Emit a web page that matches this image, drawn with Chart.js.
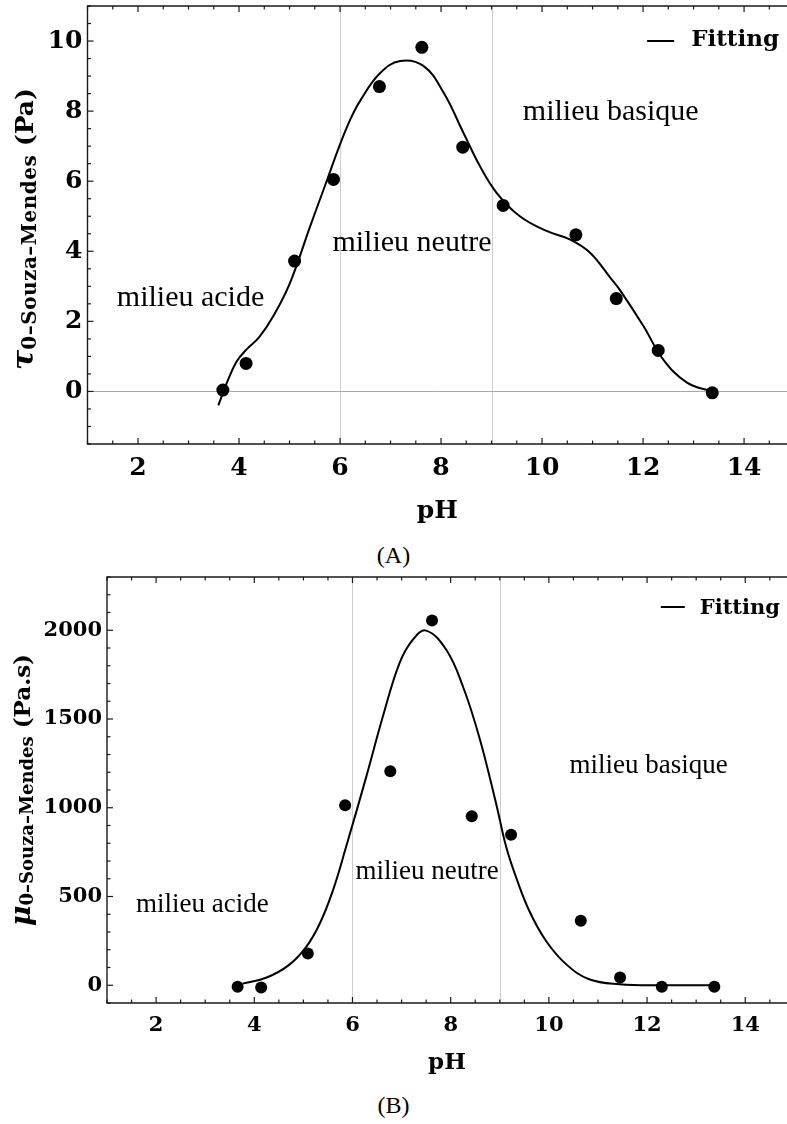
<!DOCTYPE html>
<html lang="fr">
<head>
<meta charset="UTF-8">
<title>Souza-Mendes parameters vs pH</title>
<script src="https://cdn.jsdelivr.net/npm/chart.js"></script>
<style>
    body {
        margin: 0;
        background: #fff;
    }
    .page {
        position: relative;
        width: 787px;
        height: 1124px;
        overflow: hidden;
    }
    canvas {
        position: absolute;
        left: 0;
    }
    #chartA { top: 0; }
    #chartB { top: 566px; }
    .caption {
        position: absolute;
        left: 0;
        width: 787px;
        text-align: center;
        font-family: "Liberation Serif", serif;
        font-size: 24px;
        line-height: 24px;
        color: #000;
    }
</style>
</head>
<body>
<div class="page">
    <canvas id="chartA" width="787" height="532"></canvas>
    <div class="caption" style="top:543px">(A)</div>
    <canvas id="chartB" width="787" height="526"></canvas>
    <div class="caption" style="top:1093px">(B)</div>
</div>

<script>
// ---- panel A : yield stress tau0 (Pa) ----
const phA  = [3.68, 4.14, 5.10, 5.87, 6.78, 7.62, 8.43, 9.23, 10.67, 11.47, 12.30, 13.37];
const tauA = [0.04, 0.80, 3.72, 6.05, 8.70, 9.82, 6.97, 5.31, 4.47, 2.65, 1.17, -0.04];
const phFitA  = [3.59, 3.76, 3.95, 4.15, 4.40, 4.68, 5.01, 5.41, 5.74, 6.00, 6.20, 6.40, 6.79, 7.19, 7.65, 8.05, 8.44, 8.77, 9.10, 9.56, 10.09, 10.55, 10.95, 11.35, 11.54, 12.01, 12.40, 12.87, 13.33];
const tauFitA = [-0.40, 0.25, 0.85, 1.20, 1.55, 2.15, 3.10, 4.72, 6.02, 7.05, 7.75, 8.30, 9.08, 9.43, 9.29, 8.53, 7.39, 6.43, 5.67, 5.00, 4.58, 4.34, 3.96, 3.25, 2.90, 1.86, 0.91, 0.25, 0.01];

// ---- panel B : viscosity mu0 (Pa.s) ----
const phB = [3.66, 4.14, 5.09, 5.85, 6.77, 7.62, 8.43, 9.23, 10.65, 11.45, 12.30, 13.37];
const muB = [-8, -13, 179, 1014, 1206, 2055, 952, 848, 364, 43, -8, -8];
const phFitB = [3.76, 4.24, 4.71, 5.05, 5.33, 5.60, 5.87, 6.28, 6.62, 6.96, 7.23, 7.50, 7.91, 8.25, 8.58, 8.92, 9.13, 9.33, 9.60, 9.94, 10.35, 10.82, 11.44, 12.30, 13.37];
const muFitB = [9, 42, 115, 213, 345, 533, 780, 1174, 1515, 1816, 1947, 1998, 1890, 1683, 1400, 1030, 780, 610, 420, 251, 119, 34, 6, 0, 0];

// ---- axes / zones ----
const phTicks  = [2, 4, 6, 8, 10, 12, 14];
const tauTicks = [0, 2, 4, 6, 8, 10];
const muTicks  = [0, 500, 1000, 1500, 2000];
const zoneBounds = [6, 9];
const zoneNames  = ['milieu acide', 'milieu neutre', 'milieu basique'];

const BOLD = '"DejaVu Serif", serif';
const TEXT = '"Liberation Serif", serif';

function toXY(xs, ys) {
    return xs.map((v, i) => ({ x: v, y: ys[i] }));
}

// frame, inward ticks, zone lines, labels and legend
function decor(p) {
    return {
        id: 'decor',
        beforeDatasetsDraw(chart) {
            const { ctx, chartArea: a, scales: { x, y } } = chart;
            ctx.save();
            ctx.lineWidth = 1;
            ctx.strokeStyle = '#cccccc';
            zoneBounds.forEach(v => {
                const px = Math.round(x.getPixelForValue(v)) + 0.5;
                ctx.beginPath(); ctx.moveTo(px, a.top); ctx.lineTo(px, a.bottom); ctx.stroke();
            });
            if (p.zeroLine) {
                ctx.strokeStyle = '#a8a8a8';
                const py = Math.round(y.getPixelForValue(0)) + 0.5;
                ctx.beginPath(); ctx.moveTo(a.left, py); ctx.lineTo(a.right, py); ctx.stroke();
            }
            ctx.restore();
        },
        afterDraw(chart) {
            const { ctx, chartArea: a, scales: { x, y } } = chart;
            ctx.save();
            ctx.strokeStyle = '#1a1a1a';
            ctx.lineWidth = 1.4;
            ctx.beginPath();
            ctx.moveTo(a.right, a.top); ctx.lineTo(a.left, a.top);
            ctx.lineTo(a.left, a.bottom); ctx.lineTo(a.right, a.bottom);
            ctx.stroke();

            ctx.lineWidth = 1.2;
            for (let v = 1; v <= 14.85; v += 0.5) {
                const px = x.getPixelForValue(v);
                const len = phTicks.includes(v) ? 6 : 3.5;
                ctx.beginPath();
                ctx.moveTo(px, a.bottom); ctx.lineTo(px, a.bottom - len);
                ctx.moveTo(px, a.top); ctx.lineTo(px, a.top + len);
                ctx.stroke();
            }
            for (let v = p.yMin; v <= p.yMax + 1e-9; v += p.yMinor) {
                const py = y.getPixelForValue(v);
                const len = p.yTicks.includes(Math.round(v * 100) / 100) ? 6 : 3.5;
                ctx.beginPath(); ctx.moveTo(a.left, py); ctx.lineTo(a.left + len, py); ctx.stroke();
            }

            // zone names
            ctx.fillStyle = '#000';
            ctx.font = p.noteSize + 'px ' + TEXT;
            ctx.textAlign = 'left';
            ctx.textBaseline = 'alphabetic';
            p.notes.forEach((n, i) => {
                ctx.fillText(zoneNames[i], x.getPixelForValue(n[0]), y.getPixelForValue(n[1]));
            });

            // legend
            ctx.font = 'bold ' + p.legSize + 'px ' + BOLD;
            ctx.textAlign = 'right';
            const lx = a.right - p.legRight, ly = a.top + p.legTop;
            ctx.fillText('Fitting', lx, ly);
            const tw = ctx.measureText('Fitting').width;
            ctx.lineWidth = 2;
            ctx.strokeStyle = '#000';
            ctx.beginPath();
            ctx.moveTo(lx - tw - p.legGap - p.legDash, ly - p.legDy);
            ctx.lineTo(lx - tw - p.legGap, ly - p.legDy);
            ctx.stroke();

            // rotated y title with subscript
            ctx.translate(p.titleX, (a.top + a.bottom) / 2 + p.titleShift);
            ctx.rotate(-Math.PI / 2);
            ctx.textAlign = 'left';
            let total = 0;
            p.yTitle.forEach(t => {
                ctx.font = t.font;
                ctx.letterSpacing = t.ls || '0px';
                t.w = ctx.measureText(t.text).width;
                total += t.w;
            });
            let cx = -total / 2;
            p.yTitle.forEach(t => {
                ctx.font = t.font;
                ctx.letterSpacing = t.ls || '0px';
                ctx.fillText(t.text, cx, t.dy || 0);
                cx += t.w;
            });
            ctx.restore();
        }
    };
}

function makePanel(id, p) {
    return new Chart(document.getElementById(id), {
        type: 'scatter',
        data: {
            datasets: [
                {
                    label: 'Fitting',
                    data: toXY(p.fitX, p.fitY),
                    showLine: true,
                    borderColor: '#000',
                    borderWidth: 2,
                    pointRadius: 0,
                    tension: 0.4,
                    order: 2
                },
                {
                    label: 'Mesures',
                    data: toXY(p.x, p.y),
                    backgroundColor: '#000',
                    borderWidth: 0,
                    pointRadius: p.dot,
                    order: 1
                }
            ]
        },
        options: {
            responsive: false,
            animation: false,
            devicePixelRatio: 1,
            layout: { autoPadding: false, padding: { top: p.padTop, right: 0, bottom: 0, left: 0 } },
            plugins: { legend: { display: false }, tooltip: { enabled: false } },
            scales: {
                x: {
                    type: 'linear',
                    min: 1,
                    max: 14.85,
                    afterBuildTicks: s => { s.ticks = phTicks.map(v => ({ value: v })); },
                    afterFit: s => { s.height = p.xAxisH; s.paddingLeft = 0; s.paddingRight = 0; },
                    grid: { display: false, drawTicks: false },
                    border: { display: false },
                    ticks: { color: '#000', padding: p.xPad, font: { family: BOLD, weight: 'bold', size: p.tickSize, lineHeight: 1.2 } },
                    title: {
                        display: true,
                        text: 'pH',
                        color: '#000',
                        padding: { top: 0, bottom: p.titlePad },
                        font: { family: BOLD, weight: 'bold', size: p.titleSize, lineHeight: 1.2 }
                    }
                },
                y: {
                    type: 'linear',
                    min: p.yMin,
                    max: p.yMax,
                    afterBuildTicks: s => { s.ticks = p.yTicks.map(v => ({ value: v })); },
                    afterFit: s => { s.width = p.yAxisW; s.paddingTop = 0; s.paddingBottom = 0; },
                    grid: { display: false, drawTicks: false },
                    border: { display: false },
                    ticks: {
                        color: '#000',
                        padding: p.yPad,
                        font: { family: BOLD, weight: 'bold', size: p.tickSize },
                        callback: v => String(v)
                    }
                }
            }
        },
        plugins: [decor(p)]
    });
}

makePanel('chartA', {
    x: phA, y: tauA, fitX: phFitA, fitY: tauFitA,
    yMin: -1.5, yMax: 11, yMinor: 0.5, yTicks: tauTicks,
    padTop: 6, xAxisH: 88, yAxisW: 87.5,
    tickSize: 25, xPad: 9, yPad: 5, titleSize: 25, titlePad: 6,
    dot: 6.5, zeroLine: true,
    notes: [[1.58, 2.43], [5.85, 4.0], [9.62, 7.75]], noteSize: 30,
    legSize: 23, legRight: 8, legTop: 40, legGap: 17, legDash: 27, legDy: 5,
    titleX: 33, titleShift: 4,
    yTitle: [
        { text: 'τ', font: 'italic bold 30px ' + BOLD },
        { text: '0–Souza–Mendes', font: 'bold 20px ' + BOLD, dy: 3, ls: '0.5px' },
        { text: ' (Pa)', font: 'bold 25px ' + BOLD }
    ]
});

makePanel('chartB', {
    x: phB, y: muB, fitX: phFitB, fitY: muFitB,
    yMin: -100, yMax: 2300, yMinor: 100, yTicks: muTicks,
    padTop: 11, xAxisH: 89, yAxisW: 107,
    tickSize: 21, xPad: 10, yPad: 5, titleSize: 23, titlePad: 15,
    dot: 6, zeroLine: false,
    notes: [[1.59, 411], [6.06, 598], [10.42, 1197]], noteSize: 27,
    legSize: 21, legRight: 7, legTop: 37, legGap: 15, legDash: 24, legDy: 7,
    titleX: 30, titleShift: 0,
    yTitle: [
        { text: 'μ', font: 'italic bold 28px ' + BOLD },
        { text: '0–Souza–Mendes', font: 'bold 18px ' + BOLD, dy: 3 },
        { text: ' (Pa.s)', font: 'bold 23px ' + BOLD }
    ]
});
</script>
</body>
</html>
